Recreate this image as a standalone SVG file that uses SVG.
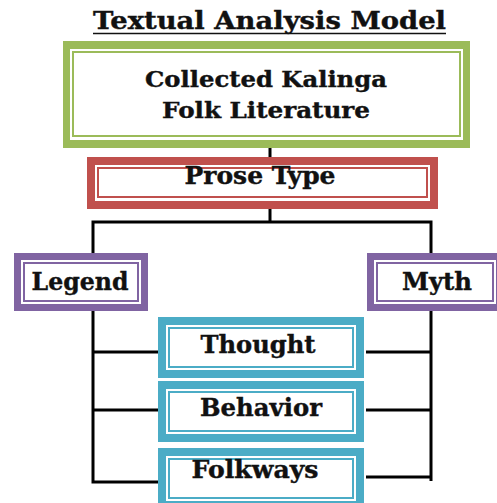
<svg xmlns="http://www.w3.org/2000/svg" width="497" height="503" viewBox="0 0 497 503">
<style>
.t{font-family:"DejaVu Serif","Liberation Serif",serif;font-weight:bold;fill:#111;stroke:#111;stroke-width:0.4;text-anchor:middle}
.ln{stroke:#000;stroke-width:3;fill:none}
.w{fill:#fff}
</style>
<rect width="497" height="503" fill="#fff"/>
<text class="t" x="269.5" y="29" font-size="24.5" textLength="353" lengthAdjust="spacingAndGlyphs">Textual Analysis Model</text>
<line x1="93" y1="33.5" x2="446" y2="33.5" stroke="#111" stroke-width="1.5"/>
<g id="connectors" class="ln">
<line x1="270" y1="148" x2="270" y2="158"/>
<line x1="270" y1="208" x2="270" y2="222"/>
<polyline points="93,253 93,222 431,222 431,253"/>
<polyline points="93,311 93,482 158,482"/>
<line x1="93" y1="352" x2="158" y2="352"/>
<line x1="93" y1="410" x2="158" y2="410"/>
<polyline points="431,311 431,481"/>
<line x1="366" y1="352" x2="431" y2="352"/>
<line x1="366" y1="410" x2="431" y2="410"/>
<line x1="366" y1="477" x2="431" y2="477"/>
</g>
<g id="collected">
<rect x="63" y="41" width="407" height="107" fill="#9BBB59"/>
<rect x="70" y="49" width="393" height="91" class="w"/>
<rect x="73" y="52" width="387" height="84" fill="#fff" stroke="#9BBB59" stroke-width="2"/>
<text class="t" x="266" y="87" font-size="22" textLength="242" lengthAdjust="spacingAndGlyphs">Collected Kalinga</text>
<text class="t" x="266" y="118" font-size="22" textLength="208" lengthAdjust="spacingAndGlyphs">Folk Literature</text>
</g>
<g id="prose">
<rect x="87" y="157" width="351" height="52" fill="#C0504D"/>
<rect x="95" y="165" width="335" height="36" class="w"/>
<rect x="98" y="168" width="329" height="29" fill="#fff" stroke="#C0504D" stroke-width="2"/>
<text class="t" x="260" y="184" font-size="24.5" textLength="151" lengthAdjust="spacingAndGlyphs">Prose Type</text>
</g>
<g id="legend">
<rect x="14" y="253" width="134" height="58" fill="#8064A2"/>
<rect x="21" y="260" width="120" height="44" class="w"/>
<rect x="24" y="263" width="114" height="38" fill="#fff" stroke="#8064A2" stroke-width="2"/>
<text class="t" x="80" y="290" font-size="24.5" textLength="97" lengthAdjust="spacingAndGlyphs">Legend</text>
</g>
<g id="myth">
<rect x="367" y="253" width="136" height="58" fill="#8064A2"/>
<rect x="374" y="260" width="122" height="44" class="w"/>
<rect x="377" y="263" width="116" height="38" fill="#fff" stroke="#8064A2" stroke-width="2"/>
<text class="t" x="437" y="290" font-size="24.5" textLength="70" lengthAdjust="spacingAndGlyphs">Myth</text>
</g>
<g id="thought">
<rect x="158" y="317" width="206" height="61" fill="#4BACC6"/>
<rect x="166" y="325" width="190" height="45" class="w"/>
<rect x="169" y="328" width="184" height="39" fill="#fff" stroke="#4BACC6" stroke-width="2"/>
<text class="t" x="258" y="353" font-size="24.5" textLength="115" lengthAdjust="spacingAndGlyphs">Thought</text>
</g>
<g id="behavior">
<rect x="158" y="381" width="206" height="61" fill="#4BACC6"/>
<rect x="166" y="389" width="190" height="45" class="w"/>
<rect x="169" y="392" width="184" height="39" fill="#fff" stroke="#4BACC6" stroke-width="2"/>
<text class="t" x="261" y="416" font-size="24.5" textLength="122" lengthAdjust="spacingAndGlyphs">Behavior</text>
</g>
<g id="folkways">
<rect x="158" y="448" width="206" height="61" fill="#4BACC6"/>
<rect x="166" y="456" width="190" height="45" class="w"/>
<rect x="169" y="459" width="184" height="39" fill="#fff" stroke="#4BACC6" stroke-width="2"/>
<text class="t" x="255" y="478" font-size="24.5" textLength="127" lengthAdjust="spacingAndGlyphs">Folkways</text>
</g>
</svg>
